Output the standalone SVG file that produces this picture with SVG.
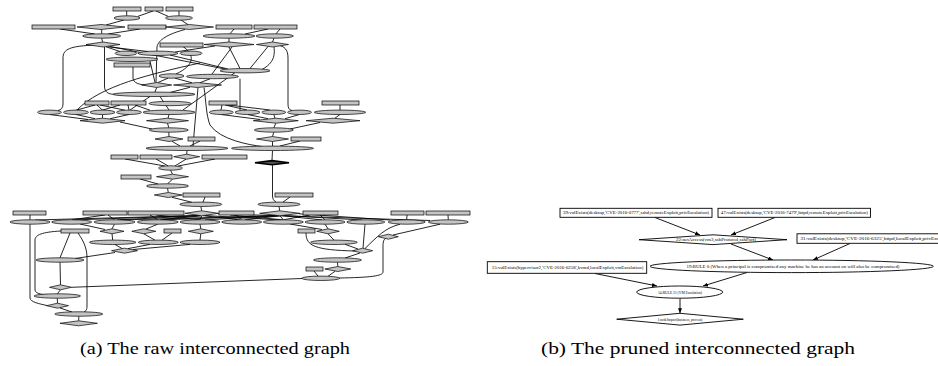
<svg xmlns="http://www.w3.org/2000/svg" width="938" height="366" viewBox="0 0 938 366">
<style>
.bg{fill:#ffffff}
.an{fill:#c4c4c4;stroke:#000;stroke-width:0.7}
.ae{fill:none;stroke:#000;stroke-width:0.85}
.bn{fill:#ffffff;stroke:#000;stroke-width:0.9}
.be{fill:none;stroke:#000;stroke-width:0.9}
.bt{font-family:"Liberation Serif","DejaVu Serif","Times New Roman",serif;font-size:4.2px;fill:#000;text-anchor:middle}
.cap{font-family:"Liberation Serif","DejaVu Serif","Times New Roman",serif;font-size:17px;fill:#000}
</style>
<defs>
<marker id="arr" markerUnits="userSpaceOnUse" markerWidth="5" markerHeight="4" refX="5" refY="2" orient="auto">
<path d="M0,0 L5,2 L0,4 Z" fill="#000"/>
</marker>
</defs>
<rect class="bg" x="0" y="0" width="938" height="366"/>

<!-- (a) raw graph: connectors -->
<g id="a-edges" class="ae">
<path d="M126.7,11 L126.7,15.8 M153,11 L138,16.3 M156,11 L168,16.3 M179,11 L179,15.8 M124,20 L106,25 M181,20 L188,24.6"/>
<path d="M60,29 L95,34 M101.7,29.5 L101.7,33.8 M140,29 L108,34 M234,29 L230,33.8 M268,29 L245,34 M280,29 L276,33.8"/>
<path d="M101.7,38.2 L102.5,42 M229,38.2 L229,42 M274,38.2 L272.5,42"/>
<path d="M185,29.5 C168,34 158,40 157,47 L156,82.5"/>
<path d="M183,46.5 C195,55 195,65 176,74"/>
<path d="M106,46.8 L120,51.5 M108,46.8 L148,51.5 M110,46.5 L225,69"/>
<path d="M96,45 C70,46 63,49 63,58 L63,104 C63,108 61,110 58,110.5"/>
<path d="M104.5,47 L104.5,86 C104.5,92 108,94 113.5,94.3"/>
<path d="M215,46 L175,52 M232,47 L212,74 M229,47 L240,68.5 M268,46.5 L250,68.5"/>
<path d="M277,45 C285,46 288,50 288,58 L288,104 C288,108 289,110 292,110.5"/>
<path d="M274,47 C275,55 274,63 262,69.5 M235,72.6 L183,110"/>
<path d="M133,67 L133,78 C133,83 140,85 147,85 M240,78.8 L240,110"/>
<path d="M168,78.2 L158,82.5 M175,78.2 L192,82.8 M210,78.8 L200,82.7 M150,61 L155,82.5 M170,55 L228,69"/>
<path d="M200,63 C150,74 100,86 77,110"/>
<path d="M156.7,87.5 L155,92 M190,87.3 L170,92.5 M198,87.5 L193,146"/>
<path d="M204,87.5 C206,100 206,115 210,125 C220,140 250,145 262,146.5"/>
<path d="M95,105 L76,110.2 M97,105 L102.5,110.2 M100,105 L125,110.2 M120,105 L102,110.2 M128,105 L129,110.2 M135,105 L150,110.2 M150,96.5 L130,110 M160,96.5 L169,110"/>
<path d="M222,105 L221,110 M225,105 L247,110 M228,105 L270,110 M340,105 L340,110"/>
<path d="M76,114.5 L95,118.7 M102.5,114.5 L102.5,118.2 M129,114.5 L110,118.7 M49.5,114.5 L88,119.5 M120,122 L152,129 M169,114.5 L168,118.2 M167.5,123.2 L168.8,127.8"/>
<path d="M221,114.5 L260,119.5 M247.5,114.5 L268,118.7 M273.8,114.5 L275,118.2 M299.5,114.5 L285,118.7 M340,114.5 L335,118.2 M320,122.5 L290,129 M275.8,123.2 L273.8,127.8"/>
<path d="M168.8,132.2 L169,136.5 M273.8,132.2 L272.5,136.5 M172,141.3 L180,146 M200,141 L190,146 M272.5,141.5 L272.5,146 M300,141 L280,146 M187,150.5 L186.7,154.2"/>
<path d="M125,159 L165,166 M156,159 L168,165.8 M186,159.2 L175,165.9 M215,159 L178,166 M272.5,150.5 L272,160.2"/>
<path d="M170.5,170.2 L172.5,174.2 M140,179 L158,184 M172.5,179.2 L167.5,183.8 M167.5,188.2 L168.3,192.5 M172,197.3 L192,202.3 M205,197 L203,202.1"/>
<path d="M272.5,165.2 L272.5,196 C272.5,199 274,201 276,202 M290,197 L283,202.1 M200.8,206.5 L201.7,210.8 M279,206.5 L279.7,210.8"/>
<path d="M198,215.5 L35,220 M199,215.6 L75,219.9 M200,215.7 L117,219.9 M201,215.8 L160,219.9 M201.7,215.8 L200,219.8 M203,215.7 L240,219.9 M205,215.5 L280,220"/>
<path d="M277,215.6 L120,220 M278,215.7 L162,219.9 M279,215.8 L205,219.9 M280,215.8 L245,219.9 M280,215.8 L283.3,219.8 M282,215.7 L322,219.9 M284,215.5 L362,220"/>
<path d="M30,215 L30,219.8 M105,215 L71.7,219.8 M108,215 L114.5,219.8 M150,215 L157.8,219.8 M156,215 L200,219.8 M236,215 L241.7,219.8 M230,215 L283,219.8 M320,215 L325,219.8 M310,215 L283.3,219.8 M407,215 L406.7,219.8 M448,215 L448.3,219.8 M218,213.8 L430,220.5 M299,213.8 L390,220"/>
<path d="M114.5,224.2 L112,228.8 M80,224 L105,229.5 M157.8,224.2 L146,229 M200,224.2 L200.8,228.8 M325,224.2 L328,228.8 M290,224 L322,229.5"/>
<path d="M30,224.2 L30,298 C30,302 40,304 47,305.5"/>
<path d="M112,233.8 L112.7,240.1 M143.8,233.8 L155,240.2 M172,233 L162,240.2 M200.8,233.8 L200,240.1 M115,244.5 L122,248.5 M150,244.4 L128,248.6 M190,244.4 L133,249.5 M115,252.5 L75,258.5"/>
<path d="M70,233 L60,257.8 M61,231 C42,232 35,235 35,240 L35,290 C35,294 45,295 48,295"/>
<path d="M78,233 C85,243 87,250 87,258 L87,306 C87,310 86,311 84,312"/>
<path d="M60,262.2 L60.5,284.8 M60.5,289.8 L57.3,293.8 M57.3,298.2 L57.5,303.2 M60,308 L72,312 M78.8,316.2 L78.7,320.8"/>
<path d="M306,233 C306,246 315,250 355,251 M328,233.8 L334,240.1 M345,244.3 L358,249 M365,224.2 L363,248.2 M400,224.2 C385,228 378,236 365,248.5 M440,224.2 L393,235"/>
<path d="M386,238 C383,240 383,243 383,248 L383,272 C383,276 370,277.5 339,278"/>
<path d="M360,253 L345,258 M337.5,262.2 L337.8,266.5 M314,271 L318,276.1 M335,271.3 L328,276.3 M302,278.5 L71.5,287.3"/>
</g>

<!-- (a) raw graph: nodes -->
<g id="a-nodes">
<g id="a-r1"><rect class="an" x="113" y="7" width="28" height="4"/></g>
<g id="a-r2"><rect class="an" x="145" y="7" width="18" height="4"/></g>
<g id="a-r3"><rect class="an" x="166" y="7" width="27" height="4"/></g>
<g id="a-r4"><rect class="an" x="32" y="25" width="43" height="4"/></g>
<g id="a-r5"><rect class="an" x="128" y="25" width="38" height="4"/></g>
<g id="a-r6"><rect class="an" x="216" y="25" width="36" height="4"/></g>
<g id="a-r7"><rect class="an" x="254" y="25" width="43" height="4"/></g>
<g id="a-r8"><rect class="an" x="160" y="43" width="43" height="4"/></g>
<g id="a-r9"><rect class="an" x="114" y="63" width="36" height="4"/></g>
<g id="a-r10"><rect class="an" x="85" y="101" width="24" height="4"/></g>
<g id="a-r11"><rect class="an" x="111" y="101" width="35" height="4"/></g>
<g id="a-r12"><rect class="an" x="209" y="101" width="28" height="4"/></g>
<g id="a-r13"><rect class="an" x="322" y="101" width="37" height="4"/></g>
<g id="a-r14"><rect class="an" x="188" y="137" width="27" height="4"/></g>
<g id="a-r15"><rect class="an" x="291" y="137" width="30" height="4"/></g>
<g id="a-r16"><rect class="an" x="111" y="155" width="27" height="4"/></g>
<g id="a-r17"><rect class="an" x="140" y="155" width="32" height="4"/></g>
<g id="a-r18"><rect class="an" x="202" y="155" width="45" height="4"/></g>
<g id="a-r19"><rect class="an" x="121" y="175" width="30" height="4"/></g>
<g id="a-r20"><rect class="an" x="183" y="193" width="37" height="4"/></g>
<g id="a-r21"><rect class="an" x="275" y="193" width="38" height="4"/></g>
<g id="a-r22"><rect class="an" x="13" y="211" width="33" height="4"/></g>
<g id="a-r23"><rect class="an" x="83" y="211" width="44" height="4"/></g>
<g id="a-r24"><rect class="an" x="128" y="211" width="56" height="4"/></g>
<g id="a-r25"><rect class="an" x="219" y="211" width="35" height="4"/></g>
<g id="a-r26"><rect class="an" x="303" y="211" width="35" height="4"/></g>
<g id="a-r27"><rect class="an" x="391" y="211" width="33" height="4"/></g>
<g id="a-r28"><rect class="an" x="426" y="211" width="44" height="4"/></g>
<g id="a-r29"><rect class="an" x="61" y="229" width="28" height="4"/></g>
<g id="a-r30"><rect class="an" x="164" y="229" width="17" height="4"/></g>
<g id="a-r31"><rect class="an" x="298" y="229" width="17" height="4"/></g>
<g id="a-r32"><rect class="an" x="306" y="267" width="17" height="4"/></g>

<g id="a-e1"><ellipse class="an" cx="127" cy="18" rx="13" ry="2.2"/></g>
<g id="a-e2"><ellipse class="an" cx="179" cy="18" rx="13.5" ry="2.2"/></g>
<g id="a-e3"><ellipse class="an" cx="101.7" cy="36" rx="19" ry="2.2"/></g>
<g id="a-e4"><ellipse class="an" cx="229" cy="36" rx="26" ry="2.2"/></g>
<g id="a-e5"><ellipse class="an" cx="274.7" cy="36" rx="18.7" ry="2.2"/></g>
<g id="a-e6"><ellipse class="an" cx="126" cy="53.3" rx="11" ry="2.2"/></g>
<g id="a-e7"><ellipse class="an" cx="158" cy="53.3" rx="20" ry="2.2"/></g>
<g id="a-e8"><ellipse class="an" cx="191" cy="53.3" rx="11" ry="2.2"/></g>
<g id="a-e9"><ellipse class="an" cx="132" cy="59.3" rx="26" ry="2.2"/></g>
<g id="a-e10"><ellipse class="an" cx="245" cy="70.7" rx="25" ry="2.2"/></g>
<g id="a-e11"><ellipse class="an" cx="171.5" cy="76" rx="12.5" ry="2.2"/></g>
<g id="a-e12"><ellipse class="an" cx="212.5" cy="76.5" rx="26" ry="2.2"/></g>
<g id="a-e13"><ellipse class="an" cx="154" cy="94.3" rx="41" ry="2.2"/></g>
<g id="a-e14"><ellipse class="an" cx="170" cy="103.5" rx="21" ry="2.2"/></g>
<g id="a-e15"><ellipse class="an" cx="49.5" cy="112.3" rx="12" ry="2.2"/></g>
<g id="a-e16"><ellipse class="an" cx="76" cy="112.3" rx="12.5" ry="2.2"/></g>
<g id="a-e17"><ellipse class="an" cx="102.5" cy="112.3" rx="12.5" ry="2.2"/></g>
<g id="a-e18"><ellipse class="an" cx="129" cy="112.3" rx="12.5" ry="2.2"/></g>
<g id="a-e19"><ellipse class="an" cx="169" cy="112.3" rx="26" ry="2.2"/></g>
<g id="a-e20"><ellipse class="an" cx="221.3" cy="112.3" rx="12" ry="2.2"/></g>
<g id="a-e21"><ellipse class="an" cx="247.5" cy="112.3" rx="12.5" ry="2.2"/></g>
<g id="a-e22"><ellipse class="an" cx="273.8" cy="112.3" rx="12" ry="2.2"/></g>
<g id="a-e23"><ellipse class="an" cx="299.5" cy="112.3" rx="12" ry="2.2"/></g>
<g id="a-e24"><ellipse class="an" cx="340" cy="112.3" rx="25.7" ry="2.2"/></g>
<g id="a-e25"><ellipse class="an" cx="168.8" cy="130" rx="19.5" ry="2.2"/></g>
<g id="a-e26"><ellipse class="an" cx="273.8" cy="130" rx="19.5" ry="2.2"/></g>
<g id="a-e27"><ellipse class="an" cx="187" cy="148.3" rx="41" ry="2.2"/></g>
<g id="a-e28"><ellipse class="an" cx="272.5" cy="148.3" rx="41" ry="2.2"/></g>
<g id="a-e29"><ellipse class="an" cx="170.5" cy="168" rx="12" ry="2.2"/></g>
<g id="a-e30"><ellipse class="an" cx="167.5" cy="186" rx="21" ry="2.2"/></g>
<g id="a-e31"><ellipse class="an" cx="200.8" cy="204.3" rx="21" ry="2.2"/></g>
<g id="a-e32"><ellipse class="an" cx="279" cy="204.3" rx="21" ry="2.2"/></g>
<g id="a-e33"><ellipse class="an" cx="30" cy="222" rx="20" ry="2.2"/></g>
<g id="a-e34"><ellipse class="an" cx="71.7" cy="222" rx="20" ry="2.2"/></g>
<g id="a-e35"><ellipse class="an" cx="114.5" cy="222" rx="20.5" ry="2.2"/></g>
<g id="a-e36"><ellipse class="an" cx="157.8" cy="222" rx="20.5" ry="2.2"/></g>
<g id="a-e37"><ellipse class="an" cx="200" cy="222" rx="20" ry="2.2"/></g>
<g id="a-e38"><ellipse class="an" cx="241.7" cy="222" rx="20" ry="2.2"/></g>
<g id="a-e39"><ellipse class="an" cx="283.3" cy="222" rx="20" ry="2.2"/></g>
<g id="a-e40"><ellipse class="an" cx="325" cy="222" rx="20" ry="2.2"/></g>
<g id="a-e41"><ellipse class="an" cx="365.8" cy="222" rx="19" ry="2.2"/></g>
<g id="a-e42"><ellipse class="an" cx="406.7" cy="222" rx="18.5" ry="2.2"/></g>
<g id="a-e43"><ellipse class="an" cx="448.3" cy="222" rx="20" ry="2.2"/></g>
<g id="a-e44"><ellipse class="an" cx="112.7" cy="242.3" rx="23.3" ry="2.2"/></g>
<g id="a-e45"><ellipse class="an" cx="158.3" cy="242.3" rx="20" ry="2.2"/></g>
<g id="a-e46"><ellipse class="an" cx="200" cy="242.3" rx="20" ry="2.2"/></g>
<g id="a-e47"><ellipse class="an" cx="334" cy="242.3" rx="23.3" ry="2.2"/></g>
<g id="a-e48"><ellipse class="an" cx="60" cy="260" rx="24" ry="2.2"/></g>
<g id="a-e49"><ellipse class="an" cx="337.5" cy="260" rx="24" ry="2.2"/></g>
<g id="a-e50"><ellipse class="an" cx="320.8" cy="278.3" rx="19" ry="2.2"/></g>
<g id="a-e51"><ellipse class="an" cx="57.3" cy="296" rx="23.3" ry="2.2"/></g>
<g id="a-e52"><ellipse class="an" cx="78.8" cy="314" rx="24" ry="2.2"/></g>

<g id="a-d1"><polygon class="an" points="77,27 101,24.5 125,27 101,29.5"/></g>
<g id="a-d2"><polygon class="an" points="165.5,27 189.5,24.5 213.5,27 189.5,29.5"/></g>
<g id="a-d3"><polygon class="an" points="86,44.5 103,42 120,44.5 103,47"/></g>
<g id="a-d4"><polygon class="an" points="204,44.5 229,42 254,44.5 229,47"/></g>
<g id="a-d5"><polygon class="an" points="256.5,44.5 272.5,42 288.5,44.5 272.5,47"/></g>
<g id="a-d6"><polygon class="an" points="141.7,85 156.7,82.5 171.7,85 156.7,87.5"/></g>
<g id="a-d7"><polygon class="an" points="173.5,85 197.5,82.5 221.5,85 197.5,87.5"/></g>
<g id="a-d8"><polygon class="an" points="80,120.7 102.5,118.2 125,120.7 102.5,123.2"/></g>
<g id="a-d9"><polygon class="an" points="146.5,120.7 167.5,118.2 188.5,120.7 167.5,123.2"/></g>
<g id="a-d10"><polygon class="an" points="253.3,120.7 275.8,118.2 298.3,120.7 275.8,123.2"/></g>
<g id="a-d11"><polygon class="an" points="306,120.7 333,118.2 360,120.7 333,123.2"/></g>
<g id="a-d12"><polygon class="an" points="155,139 169,136.5 183,139 169,141.5"/></g>
<g id="a-d13"><polygon class="an" points="256.5,139 272.5,136.5 288.5,139 272.5,141.5"/></g>
<g id="a-d14"><polygon class="an" points="173.7,156.7 186.7,154.2 199.7,156.7 186.7,159.2"/></g>
<g id="a-d15"><polygon class="an" points="255,162.7 272,160.6 289,162.7 272,164.8" style="stroke-width:1.6;fill:#555"/></g>
<g id="a-d16"><polygon class="an" points="156.5,176.7 172.5,174.2 188.5,176.7 172.5,179.2"/></g>
<g id="a-d17"><polygon class="an" points="154.3,195 168.3,192.5 182.3,195 168.3,197.5"/></g>
<g id="a-d18"><polygon class="an" points="185,213.3 201.7,210.8 218.4,213.3 201.7,215.8"/></g>
<g id="a-d19"><polygon class="an" points="259.7,213.3 279.7,210.8 299.7,213.3 279.7,215.8"/></g>
<g id="a-d20"><polygon class="an" points="100,231.3 112,228.8 124,231.3 112,233.8"/></g>
<g id="a-d21"><polygon class="an" points="131.8,231.3 143.8,228.8 155.8,231.3 143.8,233.8"/></g>
<g id="a-d22"><polygon class="an" points="188.3,231.3 200.8,228.8 213.3,231.3 200.8,233.8"/></g>
<g id="a-d23"><polygon class="an" points="316.7,231.3 328,228.8 339.3,231.3 328,233.8"/></g>
<g id="a-d24"><polygon class="an" points="378.3,236.7 388.3,234.2 398.3,236.7 388.3,239.2"/></g>
<g id="a-d25"><polygon class="an" points="111.5,250.7 124.5,248.2 137.5,250.7 124.5,253.2"/></g>
<g id="a-d26"><polygon class="an" points="352.7,250.7 362.7,248.2 372.7,250.7 362.7,253.2"/></g>
<g id="a-d27"><polygon class="an" points="324.8,269 337.8,266.5 350.8,269 337.8,271.5"/></g>
<g id="a-d28"><polygon class="an" points="49.5,287.3 60.5,284.8 71.5,287.3 60.5,289.8"/></g>
<g id="a-d29"><polygon class="an" points="46.5,305.7 57.5,303.2 68.5,305.7 57.5,308.2"/></g>
<g id="a-d30"><polygon class="an" points="60,323.3 78.7,320.8 97.4,323.3 78.7,325.8"/></g>
</g>

<!-- (b) pruned graph: connectors -->
<g id="b-edges" class="be">
<path d="M655,217.5 L700,235" marker-end="url(#arr)"/>
<path d="M775,217.5 L731,235" marker-end="url(#arr)"/>
<path d="M731,244 L773,260" marker-end="url(#arr)"/>
<path d="M850,243.5 L813,260" marker-end="url(#arr)"/>
<path d="M595,273.5 L657,286" marker-end="url(#arr)"/>
<path d="M747,272.5 L703,286" marker-end="url(#arr)"/>
<path d="M680,298.3 L680,313.2" marker-end="url(#arr)"/>
</g>

<!-- (b) pruned graph: nodes -->
<g id="b39"><rect class="bn" x="560" y="208.3" width="152" height="9"/><text class="bt" x="636" y="214.3" textLength="146" lengthAdjust="spacingAndGlyphs">39:vulExists(desktop,'CVE-2016-0777',sshd,remoteExploit,privEscalation)</text></g>
<g id="b47"><rect class="bn" x="718" y="208.3" width="152.5" height="9"/><text class="bt" x="794.3" y="214.3" textLength="147" lengthAdjust="spacingAndGlyphs">47:vulExists(desktop,'CVE-2016-7479',httpd,remoteExploit,privEscalation)</text></g>
<g id="b22"><polygon class="bn" points="639,239.7 713,234.8 787,239.7 713,244.6"/><text class="bt" x="716" y="241.2" textLength="80" lengthAdjust="spacingAndGlyphs">22:netAccess(vm3,sshProtocol,sshPort)</text></g>
<g id="b31"><rect class="bn" x="797" y="233.8" width="160" height="9.5"/><text class="bt" x="800.5" y="240" style="text-anchor:start" textLength="154" lengthAdjust="spacingAndGlyphs">31:vulExists(desktop,'CVE-2016-6325',httpd,localExploit,privEscalation)</text></g>
<g id="b19"><ellipse class="bn" cx="791.7" cy="266.3" rx="141.7" ry="6.3"/><text class="bt" x="793" y="267.8" textLength="213" lengthAdjust="spacingAndGlyphs">19:RULE 0 (When a principal is compromised any machine he has an account on will also be compromised)</text></g>
<g id="b15"><rect class="bn" x="487.3" y="261.7" width="159.4" height="11.6"/><text class="bt" x="567.5" y="269" textLength="151.5" lengthAdjust="spacingAndGlyphs">15:vulExists(hypervisor2,'CVE-2016-6258',kvmd,localExploit,vmEscalation)</text></g>
<g id="b14"><ellipse class="bn" cx="679.7" cy="292.1" rx="43" ry="6.1"/><text class="bt" x="680" y="293.6" textLength="44" lengthAdjust="spacingAndGlyphs">14:RULE 31 (VM Escalation)</text></g>
<g id="b1"><polygon class="bn" points="616.7,319.2 680,313.3 743.3,319.2 680,325.1"/><text class="bt" x="680" y="320.7" textLength="45" lengthAdjust="spacingAndGlyphs">1:nodeImpact(business_process)</text></g>

<!-- captions -->
<text class="cap" x="80" y="354" textLength="270" lengthAdjust="spacingAndGlyphs">(a) The raw interconnected graph</text>
<text class="cap" x="541" y="354" textLength="314" lengthAdjust="spacingAndGlyphs">(b) The pruned interconnected graph</text>
</svg>
